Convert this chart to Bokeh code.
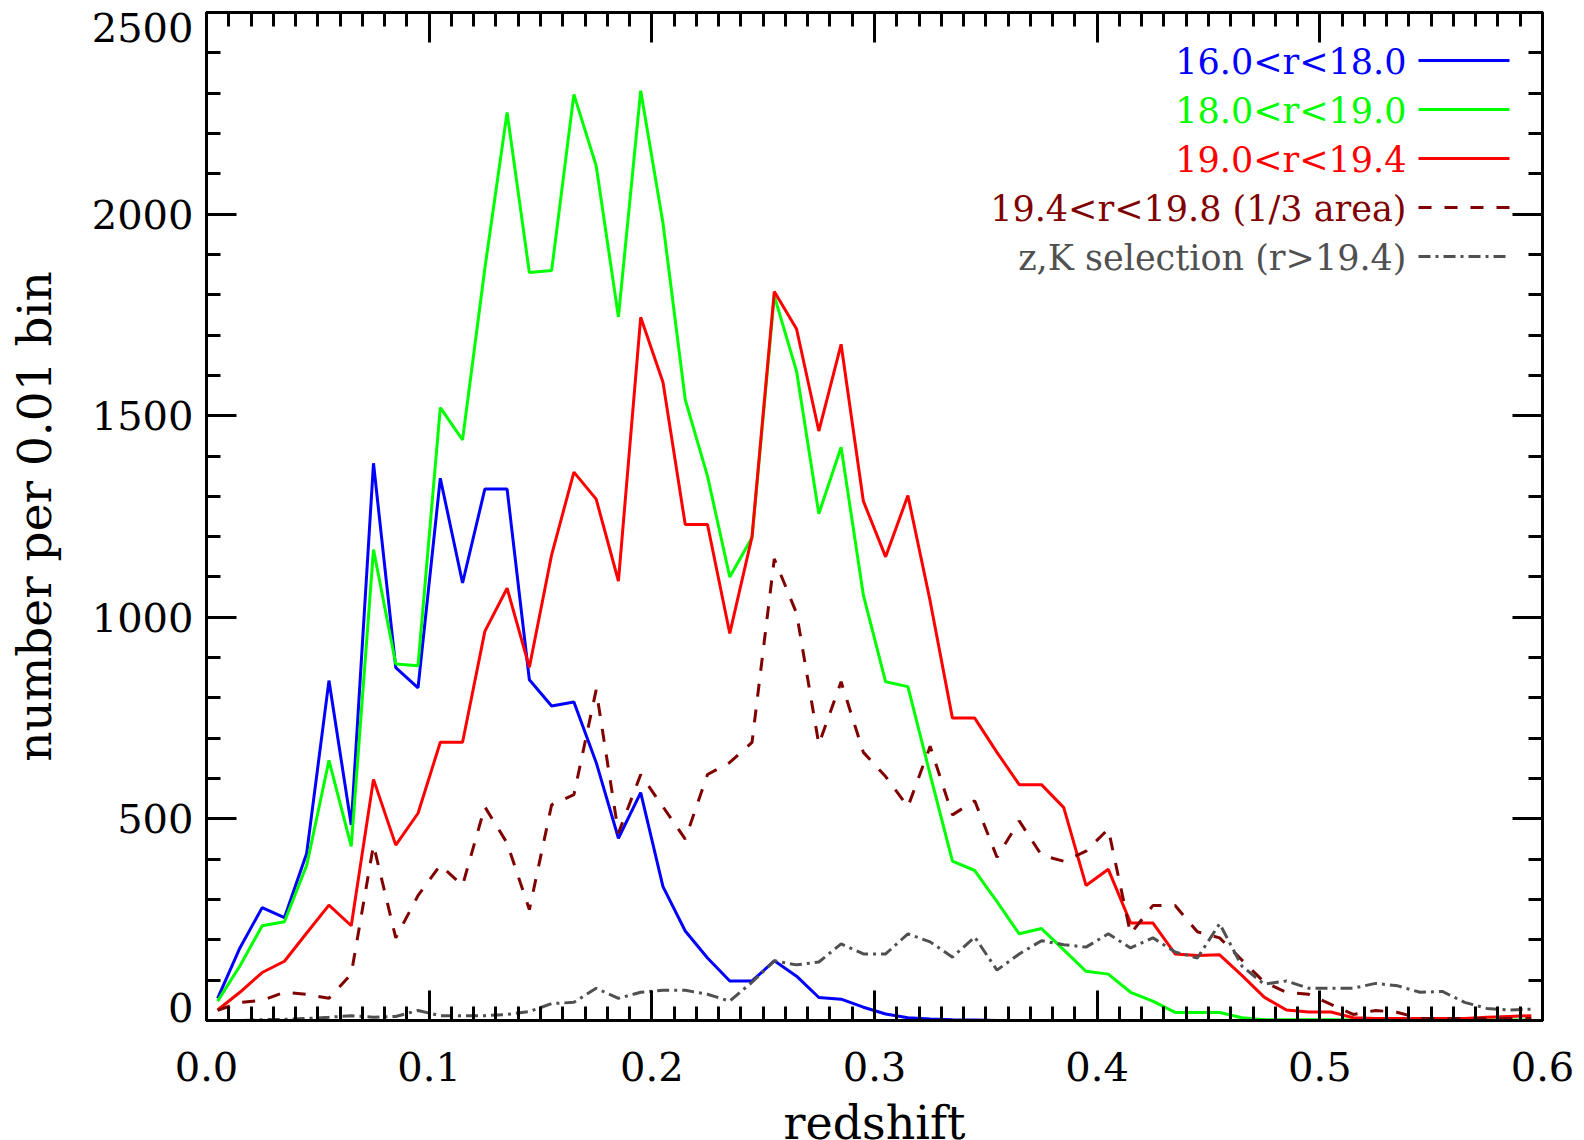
from bokeh.plotting import figure
from bokeh.layouts import column
from bokeh.models import (LinearAxis, FixedTicker, PrintfTickFormatter,
                          Range1d, Label, Arrow)
from bokeh.core.properties import value
from bokeh.embed import file_html
from bokeh.resources import INLINE

# ---------------- data ----------------
redshift = [0.005, 0.015, 0.025, 0.035, 0.045, 0.055, 0.065, 0.075, 0.085, 0.095,
            0.105, 0.115, 0.125, 0.135, 0.145, 0.155, 0.165, 0.175, 0.185, 0.195,
            0.205, 0.215, 0.225, 0.235, 0.245, 0.255, 0.265, 0.275, 0.285, 0.295,
            0.305, 0.315, 0.325, 0.335, 0.345, 0.355, 0.365, 0.375, 0.385, 0.395,
            0.405, 0.415, 0.425, 0.435, 0.445, 0.455, 0.465, 0.475, 0.485, 0.495,
            0.505, 0.515, 0.525, 0.535, 0.545, 0.555, 0.565, 0.575, 0.585, 0.595]

r16_18 = [55, 180, 280, 255, 415, 843, 485, 1382, 875, 825,
          1345, 1085, 1318, 1318, 845, 780, 790, 640, 452, 565,
          332, 222, 155, 98, 98, 148, 110, 57, 53, 33,
          16, 7, 4, 2, 1, 0, 0, 0, 0, 0,
          0, 0, 0, 0, 0, 0, 0, 0, 0, 0,
          0, 0, 0, 0, 0, 0, 0, 0, 0, 0]

r18_19 = [48, 135, 235, 245, 385, 645, 432, 1168, 884, 880,
          1520, 1440, 1865, 2252, 1855, 1860, 2297, 2120, 1745, 2306,
          1978, 1540, 1350, 1100, 1198, 1797, 1610, 1257, 1422, 1055,
          840, 828, 610, 395, 372, 295, 215, 228, 175, 122,
          115, 70, 48, 20, 20, 20, 7, 2, 2, 2,
          2, 1, 1, 1, 1, 1, 1, 1, 1, 1]

r19_194 = [26, 70, 119, 147, 217, 286, 235, 598, 435, 514,
           690, 690, 965, 1072, 876, 1155, 1360, 1293, 1090, 1744,
           1583, 1230, 1230, 960, 1200, 1808, 1715, 1462, 1677, 1288,
           1150, 1302, 1040, 750, 750, 665, 585, 585, 528, 335,
           375, 242, 242, 165, 161, 163, 112, 58, 26, 21,
           21, 7, 5, 5, 5, 5, 5, 8, 10, 12]

r194_198 = [25, 45, 50, 70, 65, 55, 115, 435, 205, 310,
            385, 335, 530, 440, 275, 535, 560, 820, 465, 610,
            530, 450, 610, 640, 690, 1145, 1010, 685, 840, 665,
            605, 530, 680, 510, 545, 405, 495, 410, 395, 420,
            475, 215, 285, 285, 220, 205, 150, 95, 70, 65,
            40, 15, 25, 20, 5, 5, 5, 5, 5, 5]

zk_sel = [0, 0, 2, 3, 5, 8, 12, 8, 10, 25,
          12, 12, 12, 15, 22, 42, 45, 80, 55, 70,
          75, 75, 65, 48, 95, 148, 138, 145, 190, 165,
          165, 215, 195, 157, 207, 125, 165, 198, 188, 182,
          215, 180, 205, 170, 155, 240, 135, 90, 98, 80,
          80, 80, 92, 86, 70, 72, 45, 30, 26, 28]

labels = ["16.0<r<18.0", "18.0<r<19.0", "19.0<r<19.4",
          "19.4<r<19.8 (1/3 area)", "z,K selection (r>19.4)"]

x_ticks = [0.0, 0.1, 0.2, 0.3, 0.4, 0.5, 0.6]
y_ticks = [0, 500, 1000, 1500, 2000, 2500]
y_tick_labels = ["0", "500", "1000", "1500", "2000", "2500"]
x_title = "redshift"
y_title = "number per 0.01 bin"

# ---------------- styles ----------------
colors = ["#0000ff", "#00ff00", "#ff0000", "#800000", "#505050"]
dashes = ["solid", "solid", "solid", "13 13", "12 5 3 5"]
series = [r16_18, r18_19, r19_194, r194_198, zk_sel]

FONT = "DejaVu Serif"
W, H = 1584, 1140
H1 = 1097                      # main figure height; a title strip fills the rest
L, R, T, B = 206, 1542, 12, 1020
X0, X1, Y0, Y1 = 0.0, 0.6, 0.0, 2500.0


def xd(px):
    return X0 + (px - L) / (R - L) * (X1 - X0)


def yd(py):
    return Y0 + (B - py) / (B - T) * (Y1 - Y0)


p = figure(width=W, height=H1, x_range=Range1d(X0, X1), y_range=Range1d(Y0, Y1),
           output_backend="svg", toolbar_location=None, title=None,
           min_border_left=L, min_border_right=W - R,
           min_border_top=T, min_border_bottom=H1 - B)
p.background_fill_color = "white"
p.border_fill_color = "white"
p.outline_line_color = "black"
p.outline_line_width = 3
p.grid.visible = False

x_minor = [round(0.01 * k, 2) for k in range(61)]
y_minor = [100 * k for k in range(26)]


def style_axis(ax, show_labels):
    ax.axis_line_width = 3
    ax.axis_line_color = "black"
    ax.major_tick_in = 30
    ax.major_tick_out = 0
    ax.minor_tick_in = 14
    ax.minor_tick_out = 0
    ax.major_tick_line_width = 3
    ax.minor_tick_line_width = 3
    ax.major_tick_line_color = "black"
    ax.minor_tick_line_color = "black"
    if not show_labels:
        ax.major_label_text_font_size = "1px"
        ax.major_label_text_color = None
        ax.major_label_standoff = 0


xa = p.xaxis[0]
xa.ticker = FixedTicker(ticks=x_ticks, minor_ticks=x_minor)
xa.formatter = PrintfTickFormatter(format="%.1f")
style_axis(xa, True)
xa.major_label_text_font = FONT
xa.major_label_text_font_size = "40px"
xa.major_label_text_color = "black"
xa.major_label_standoff = 31

# left axis: tick marks only (true positions)
ya = p.yaxis[0]
ya.ticker = FixedTicker(ticks=y_ticks, minor_ticks=y_minor)
style_axis(ya, False)

# left label axis: the end labels sit inside the frame (as in the original),
# so the lowest and highest ones are nudged inward by a fixed number of pixels
nudge_px = [13, 0, 0, 0, 0, -15]
lab_pos = [t + n / (B - T) * (Y1 - Y0) for t, n in zip(y_ticks, nudge_px)]
yl = LinearAxis(ticker=FixedTicker(ticks=lab_pos, minor_ticks=[]))
yl.major_label_overrides = {v: s for v, s in zip(lab_pos, y_tick_labels)}
yl.axis_line_color = None
yl.major_tick_line_color = None
yl.minor_tick_line_color = None
yl.major_tick_in = 0
yl.major_tick_out = 0
yl.major_label_text_font = FONT
yl.major_label_text_font_size = "40px"
yl.major_label_text_color = "black"
yl.major_label_standoff = 13
yl.axis_label = y_title
yl.axis_label_text_font = FONT
yl.axis_label_text_font_size = "47px"
yl.axis_label_text_font_style = "normal"
yl.axis_label_text_color = "black"
yl.axis_label_standoff = 27
p.add_layout(yl, "left")

top = LinearAxis(ticker=FixedTicker(ticks=x_ticks, minor_ticks=x_minor))
style_axis(top, False)
p.add_layout(top, "above")
right = LinearAxis(ticker=FixedTicker(ticks=y_ticks, minor_ticks=y_minor))
style_axis(right, False)
p.add_layout(right, "right")

for ys, c, d in zip(series, colors, dashes):
    p.line(redshift, ys, line_color=c, line_width=3, line_dash=d)

# ---------------- legend (text left, sample line right) ----------------
row_px = [60, 109, 158, 207, 256]
for lab, c, d, py in zip(labels, colors, dashes, row_px):
    p.add_layout(Label(x=xd(1406), y=yd(py + 1), text=lab, text_align="right",
                       text_baseline="middle", text_font=FONT,
                       text_font_size="35px", text_color=c))
    p.add_layout(Arrow(end=None, x_start=xd(1418), y_start=yd(py),
                       x_end=xd(1509), y_end=yd(py), line_color=c,
                       line_width=3, line_dash=d))

# ---------------- x title strip (shares the x range with the plot) ----------------
H2 = H - H1
pt = figure(width=W, height=H2, x_range=p.x_range, y_range=Range1d(0, H2),
            output_backend="svg", toolbar_location=None, title=None,
            x_axis_location=None, y_axis_location=None,
            min_border_left=L, min_border_right=W - R,
            min_border_top=0, min_border_bottom=0)
pt.outline_line_color = None
pt.grid.visible = False
pt.background_fill_color = "white"
pt.border_fill_color = "white"
pt.text(x=[(X0 + X1) / 2], y=[H2 / 2 - 4], text=[x_title], text_align="center",
        text_baseline="middle", text_font=value(FONT),
        text_font_size="46px", text_color="black")

layout = column(p, pt, spacing=0)
open("out.html", "w").write(file_html(layout, INLINE))
